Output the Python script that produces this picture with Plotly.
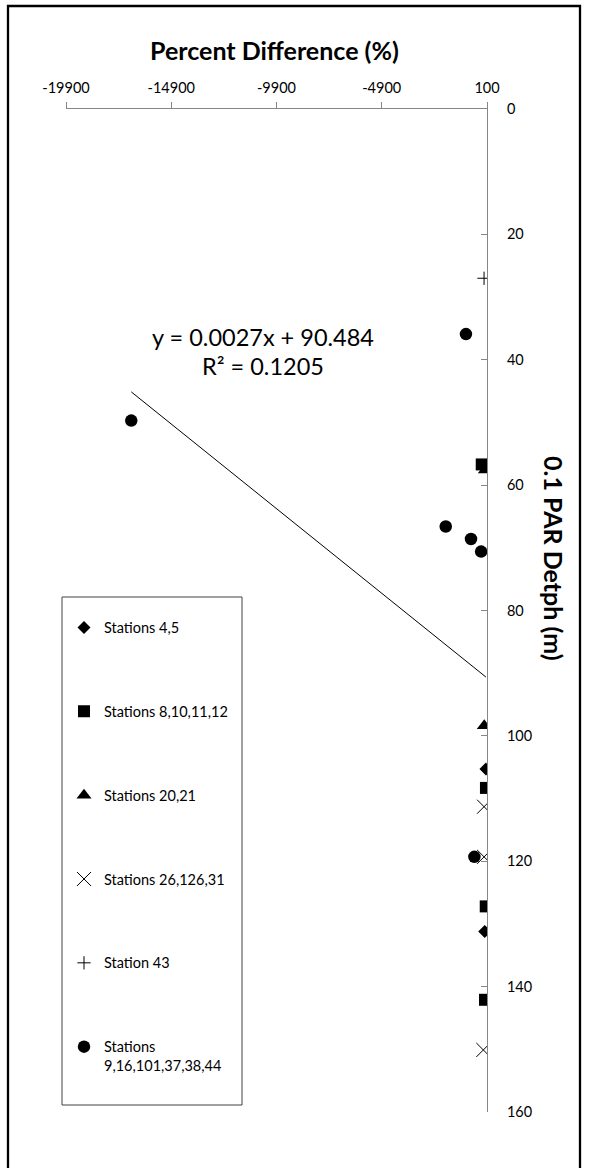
import plotly.graph_objects as go

# Station groups: percent difference (x) vs 0.1 PAR depth in metres (y)
st_4_5_x = [50, -10]
st_4_5_y = [105.3, 131.2]

st_8_10_11_12_x = [-150, 50, 40, 5]
st_8_10_11_12_y = [56.7, 108.3, 127.2, 142.1]

st_20_21_x = [20, -30]
st_20_21_y = [57.6, 98.4]

st_26_126_31_x = [-40, -40, -75]
st_26_126_31_y = [111.3, 119.3, 150.1]

st_43_x = [-40]
st_43_y = [27.0]

st_9_16_x = [-900, -16800, -1860, -660, -180, -500]
st_9_16_y = [35.9, 49.7, 66.6, 68.6, 70.6, 119.3]

# Linear trendline coefficients
trend_slope = 0.0027
trend_intercept = 90.484
trend_r2 = 0.1205

x_ticks = [-19900, -14900, -9900, -4900, 100]
y_ticks = [0, 20, 40, 60, 80, 100, 120, 140, 160]

FONT = "Lato"

series = [
    ("Stations 4,5", st_4_5_x, st_4_5_y, dict(symbol="diamond", size=10, color="black")),
    ("Stations 8,10,11,12", st_8_10_11_12_x, st_8_10_11_12_y, dict(symbol="square", size=12, color="black")),
    ("Stations 20,21", st_20_21_x, st_20_21_y, dict(symbol="triangle-up", size=13, color="black")),
    ("Stations 26,126,31", st_26_126_31_x, st_26_126_31_y,
     dict(symbol="x-thin-open", size=14, color="black", line=dict(color="black", width=1))),
    ("Station 43", st_43_x, st_43_y,
     dict(symbol="cross-thin-open", size=9.5, color="black", line=dict(color="black", width=1))),
    ("Stations<br>9,16,101,37,38,44", st_9_16_x, st_9_16_y, dict(symbol="circle", size=12.5, color="black")),
]

fig = go.Figure()

all_x = []
for i, (name, xs, ys, marker) in enumerate(series):
    all_x += xs
    fig.add_trace(go.Scatter(
        x=xs, y=ys, mode="markers", name=name, marker=marker,
        legendgroup=f"g{i}", showlegend=True,
    ))

# Trendline across the data range
tx = [min(all_x), max(all_x)]
ty = [trend_slope * v + trend_intercept for v in tx]
fig.add_trace(go.Scatter(
    x=tx, y=ty, mode="lines", line=dict(color="black", width=1),
    showlegend=False, hoverinfo="skip",
))

axis_grey = "#868686"

fig.update_layout(
    width=589, height=1168,
    margin=dict(l=66, r=102, t=109, b=56),
    paper_bgcolor="white", plot_bgcolor="white",
    font=dict(family=FONT, color="black"),
    xaxis=dict(
        range=[-19900, 100], side="top", tickvals=x_ticks,
        ticktext=[str(v) for v in x_ticks],
        showline=True, linecolor=axis_grey, linewidth=1,
        ticks="outside", ticklen=6, tickcolor=axis_grey,
        showgrid=False, zeroline=False,
        tickfont=dict(size=14.5, family=FONT, color="black"),
        ticklabelstandoff=3,
    ),
    yaxis=dict(
        range=[160, 0], side="right", tickvals=y_ticks,
        showline=True, linecolor=axis_grey, linewidth=1,
        ticks="inside", ticklen=6, tickcolor=axis_grey,
        showgrid=False, zeroline=False,
        tickfont=dict(size=14.5, family=FONT, color="black"),
        ticklabelstandoff=16,
    ),
    legend=dict(
        x=(64 - 66) / 421, xanchor="left", y=0.499, yanchor="top",
        bgcolor="rgba(0,0,0,0)", borderwidth=0,
        font=dict(size=14.5, family=FONT, color="black"),
        tracegroupgap=62, valign="top", itemwidth=30,
    ),
    showlegend=True,
)

# Legend frame and outer chart frame
fig.add_shape(type="rect", xref="paper", yref="paper",
              x0=(62 - 66) / 421, x1=(242 - 66) / 421,
              y0=1 - (1105 - 109) / 1003, y1=1 - (597 - 109) / 1003,
              line=dict(color="#404040", width=1), fillcolor="rgba(0,0,0,0)")
fig.add_shape(type="rect", xref="paper", yref="paper",
              x0=(8 - 66) / 421, x1=(580 - 66) / 421,
              y0=1 - (1175 - 109) / 1003, y1=1 - (6 - 109) / 1003,
              line=dict(color="black", width=2.3), fillcolor="rgba(0,0,0,0)")

# Axis titles
fig.add_annotation(xref="paper", yref="paper", x=(274 - 66) / 421, y=1 - (50 - 109) / 1003,
                   xanchor="center", yanchor="middle",
                   text="Percent Difference (%)", showarrow=False,
                   font=dict(size=25, family=FONT, weight="bold", color="black"))
fig.add_annotation(xref="paper", yref="paper", x=(554 - 66) / 421, y=1 - (558 - 109) / 1003,
                   xanchor="center", yanchor="middle",
                   text="0.1 PAR Detph (m)", showarrow=False, textangle=90,
                   font=dict(size=25, family=FONT, weight="bold", color="black"))

# Trendline equation
fig.add_annotation(xref="paper", yref="paper", x=(262.5 - 66) / 421, y=1 - (336.7 - 109) / 1003,
                   xanchor="center", yanchor="middle",
                   text=f"y = {trend_slope}x + {trend_intercept}", showarrow=False,
                   font=dict(size=23.5, family=FONT, color="black"))
fig.add_annotation(xref="paper", yref="paper", x=(262.5 - 66) / 421, y=1 - (366 - 109) / 1003,
                   xanchor="center", yanchor="middle",
                   text=f"R² = {trend_r2}", showarrow=False,
                   font=dict(size=23.5, family=FONT, color="black"))

fig.write_html("out.html")
